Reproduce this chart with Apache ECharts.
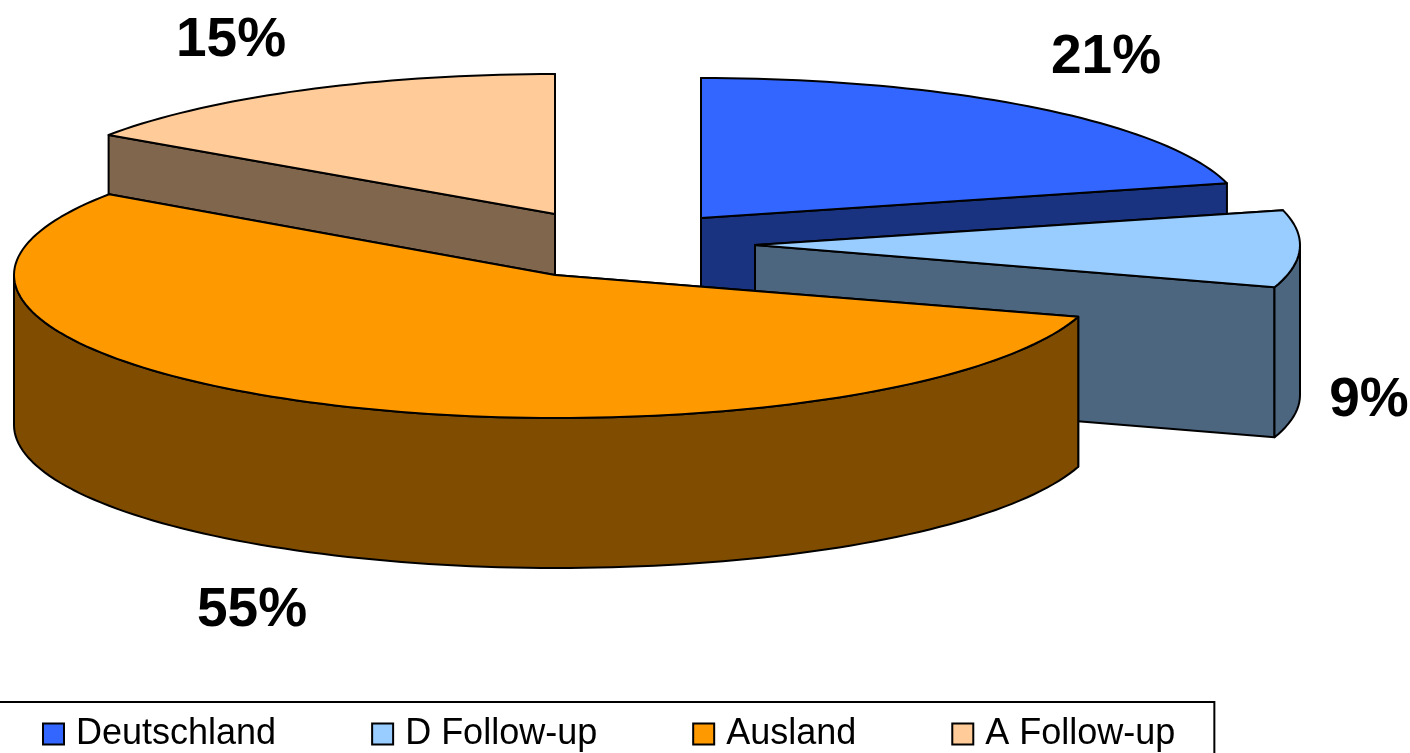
<!DOCTYPE html>
<html>
<head>
<meta charset="utf-8">
<style>html,body{margin:0;padding:0;background:#fff;overflow:hidden}#c{width:1410px;height:753px}</style>
<script src="https://cdn.jsdelivr.net/npm/echarts@6/dist/echarts.min.js"></script>
</head>
<body>
<div id="c"></div>
<script>
// data
const categories = ['Deutschland', 'D Follow-up', 'Ausland', 'A Follow-up'];
const shares = [21, 9, 55, 15];

// styles and layout of the tilted, exploded pie
const topColors = ['#3366FF', '#99CCFF', '#FF9900', '#FFCC99'];
const wallColors = ['#1A3380', '#4D6680', '#804D00', '#80664D'];
const apexes = [[701, 218], [755, 245], [555, 275], [555, 214]];
const arcCentres = [[701, 218], [755, 245], [558, 275], [555, 214]];
const radiiX = [543, 545, 544, 541];
const radiiY = [140, 140, 143, 140];
// small perspective corrections of the projected slice edges, in degrees
const startNudge = [0, 0, -1.0, -1.6];
const endNudge = [0, -0.4, -1.6, 0];
const labelCentres = [[1106, 58], [1369, 401], [252, 611], [231, 41]];
const paintOrder = [3, 4, 5, 2];
const depth = 150;
const total = shares.reduce((a, b) => a + b, 0);

const chart = echarts.init(document.getElementById('c'), null, {renderer: 'canvas'});

function arcPoints(i, from, to) {
  const pts = [];
  const steps = Math.max(2, Math.ceil(Math.abs(to - from) / 1.5));
  for (let s = 0; s <= steps; s++) {
    const a = (from + (to - from) * s / steps) * Math.PI / 180;
    pts.push([arcCentres[i][0] + radiiX[i] * Math.sin(a), arcCentres[i][1] - radiiY[i] * Math.cos(a)]);
  }
  return pts;
}
const drop = p => [p[0], p[1] + depth];
const lineStyle = fill => ({fill, stroke: '#000', lineWidth: 2, lineJoin: 'round'});
const poly = (points, fill) => ({type: 'polygon', shape: {points}, style: lineStyle(fill), silent: true});

function sliceRenderer(i) {
  return function (params, api) {
    const before = shares.slice(0, i).reduce((a, b) => a + b, 0);
    const start = before / total * 360 + startNudge[i];
    const end = (before + api.value(0)) / total * 360 + endNudge[i];
    const apex = apexes[i];
    const edge = arcPoints(i, start, end);
    const wall = wallColors[i];
    const children = [];
    // flat cut faces
    [edge[0], edge[edge.length - 1]].forEach(p => {
      children.push(poly([apex, p, drop(p), drop(apex)], wall));
    });
    // curved outer wall: only the part on the near half of the ellipse
    const f = Math.max(start, 90), t = Math.min(end, 270);
    if (t > f) {
      const front = arcPoints(i, f, t);
      children.push(poly(front.concat(front.map(drop).reverse()), wall));
    }
    // top face
    children.push(poly([apex].concat(edge), topColors[i]));
    children.push({
      type: 'text', silent: true, z2: 100,
      style: {
        text: api.value(0) + '%', x: labelCentres[i][0], y: labelCentres[i][1],
        align: 'center', verticalAlign: 'middle',
        font: 'bold 55px "Liberation Sans", Arial, sans-serif', fill: '#000'
      }
    });
    return {type: 'group', children};
  };
}

chart.setOption({
  animation: false,
  backgroundColor: '#fff',
  legend: {
    data: categories,
    left: -2, top: 702,
    width: 1400,
    orient: 'horizontal',
    padding: [14, 39, 40, 44],
    itemGap: 95,
    itemWidth: 21, itemHeight: 21,
    icon: 'rect',
    selectedMode: false,
    borderColor: '#000', borderWidth: 2,
    itemStyle: {borderColor: '#000', borderWidth: 2},
    textStyle: {fontFamily: '"Liberation Sans", Arial, sans-serif', fontSize: 36, color: '#000', padding: [0, 0, 0, 7]}
  },
  series: categories.map((name, i) => ({
    type: 'custom',
    name,
    coordinateSystem: 'none',
    z: paintOrder[i],
    silent: true,
    itemStyle: {color: topColors[i]},
    data: [[shares[i]]],
    encode: {value: 0},
    renderItem: sliceRenderer(i)
  }))
});
</script>
</body>
</html>
